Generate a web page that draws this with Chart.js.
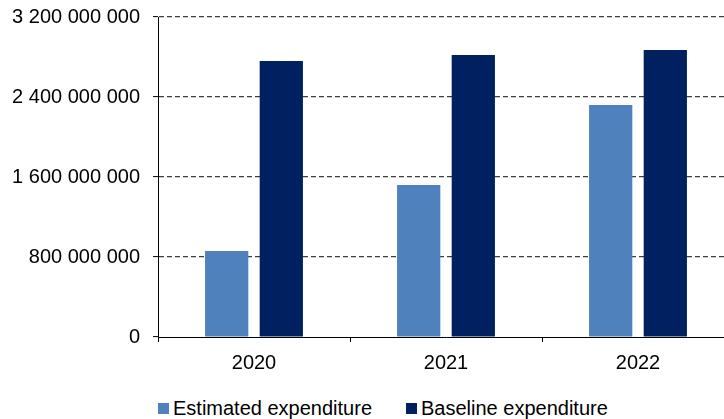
<!DOCTYPE html>
<html>
<head>
<meta charset="utf-8">
<script src="https://cdn.jsdelivr.net/npm/chart.js@4"></script>
<style>
  html, body { margin: 0; padding: 0; background: #fff; overflow: hidden; }
  body { width: 724px; height: 419px; position: relative; }
  #wrap { position: absolute; left: 0; top: 0; width: 735px; height: 380px; }
  #legend {
    position: absolute; left: 158px; top: 396px; height: 24px;
    display: flex; align-items: center;
    font: 20px "Liberation Sans", Arial, sans-serif; color: #000; white-space: nowrap;
  }
  #legend .item { display: flex; align-items: center; margin-right: 34px; }
  #legend .box { width: 11px; height: 11px; margin-right: 4px; }
</style>
</head>
<body>
<div id="wrap"><canvas id="chart"></canvas></div>
<div id="legend"></div>
<script>
// Years on the category axis
const years = ['2020', '2021', '2022'];
// Expenditure series (EUR)
const estimatedExpenditure = [860000000, 1520000000, 2320000000];
const baselineExpenditure = [2760000000, 2820000000, 2870000000];
// Value-axis tick positions
const yTicks = [0, 800000000, 1600000000, 2400000000, 3200000000];

const seriesNames = ['Estimated expenditure', 'Baseline expenditure'];
const seriesColors = ['#4F81BD', '#002060'];

const spaced = v => String(v).replace(/\B(?=(\d{3})+(?!\d))/g, ' ');

Chart.defaults.font.family = '"Liberation Sans", Arial, sans-serif';
Chart.defaults.font.size = 20;
Chart.defaults.color = '#000';

const chart = new Chart(document.getElementById('chart'), {
  type: 'bar',
  data: {
    labels: years,
    datasets: [
      { label: seriesNames[0], data: estimatedExpenditure, backgroundColor: seriesColors[0] },
      { label: seriesNames[1], data: baselineExpenditure, backgroundColor: seriesColors[1] }
    ]
  },
  options: {
    responsive: true,
    maintainAspectRatio: false,
    animation: false,
    categoryPercentage: 0.569,
    barPercentage: 0.792,
    layout: { padding: { top: 17, right: 1, bottom: 0, left: 0 } },
    plugins: { legend: { display: false }, tooltip: { enabled: false } },
    scales: {
      x: {
        grid: {
          drawOnChartArea: false,
          drawTicks: true,
          tickLength: 5,
          tickColor: '#000',
          tickWidth: 1
        },
        border: { color: '#000', width: 1 },
        ticks: { padding: 9, color: '#000' },
        afterFit: s => { s.height = 43; s.paddingLeft = 0; s.paddingRight = 0; }
      },
      y: {
        min: 0,
        max: 3200000000,
        afterBuildTicks: s => { s.ticks = yTicks.map(v => ({ value: v })); },
        grid: {
          color: ctx => (ctx.tick && ctx.tick.value === 0) ? 'rgba(0,0,0,0)' : '#404040',
          lineWidth: 1.2,
          tickLength: 5,
          tickColor: '#000',
          tickWidth: 1,
          tickBorderDash: [],
          drawTicks: true
        },
        border: { color: '#000', width: 1, dash: [5, 3] },
        ticks: { padding: 13, color: '#000', callback: v => spaced(v) },
        afterFit: s => { s.width = 158; s.paddingTop = 0; s.paddingBottom = 0; }
      }
    }
  }
});

// Legend built from the dataset definitions
const legend = document.getElementById('legend');
chart.data.datasets.forEach(ds => {
  const item = document.createElement('span');
  item.className = 'item';
  const box = document.createElement('span');
  box.className = 'box';
  box.style.background = ds.backgroundColor;
  item.appendChild(box);
  item.appendChild(document.createTextNode(ds.label));
  legend.appendChild(item);
});
</script>
</body>
</html>
